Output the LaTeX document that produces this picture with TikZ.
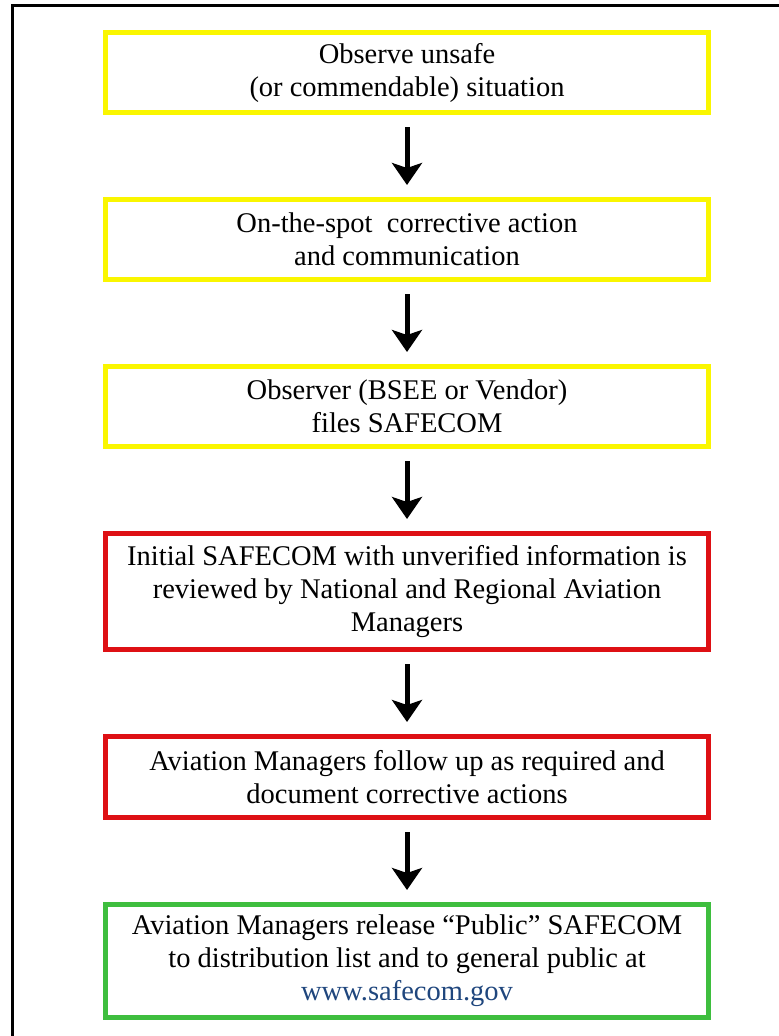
\documentclass[tikz,border=0pt]{standalone}
\usepackage{fontspec}
\setmainfont{Liberation Serif}
\usepackage{tikz}
\usetikzlibrary{arrows.meta}
\usetikzlibrary{positioning}

\definecolor{boxyellow}{RGB}{250,246,0}
\definecolor{boxred}{RGB}{222,16,20}
\definecolor{boxgreen}{RGB}{62,190,62}
\definecolor{linkblue}{RGB}{31,70,125}

\begin{document}
\begin{tikzpicture}[x=1pt,y=-1pt,node distance=82pt,
  main node/.style={rectangle,draw,line width=5pt,minimum width=603pt,inner sep=4pt,
    align=center,font=\fontsize{28.5}{33}\selectfont},
  yellow node/.style={main node,draw=boxyellow,minimum height=80pt},
  red node/.style={main node,draw=boxred},
  green node/.style={main node,draw=boxgreen,minimum height=113pt},
  flow/.style={-{Stealth[length=22pt,width=30pt,inset=5pt]},line width=5pt,
    shorten >=12pt,shorten <=12pt}]

  \useasboundingbox (0,0) rectangle (779,1036);
  \begin{scope}
    \clip (0,0) rectangle (779,1036);
    \draw[line width=3pt] (12,5.5) rectangle (800,1060);
  \end{scope}

  \node[yellow node] (1) at (407,72.5) {Observe unsafe\\(or commendable) situation};
  \node[yellow node] (2) [below=of 1] {On-the-spot\ \ corrective action\\and communication};
  \node[yellow node] (3) [below=of 2] {Observer (BSEE or Vendor)\\files SAFECOM};
  \node[red node,minimum height=116pt] (4) [below=of 3]
    {Initial SAFECOM with unverified information is\\reviewed by National and Regional Aviation\\Managers};
  \node[red node,minimum height=81pt] (5) [below=of 4]
    {Aviation Managers follow up as required and\\document corrective actions};
  \node[green node] (6) [below=of 5]
    {Aviation Managers release “Public” SAFECOM\\to distribution list and to general public at\\\textcolor{linkblue}{www.safecom.gov}};

  \draw[flow] (1) -- (2);
  \draw[flow] (2) -- (3);
  \draw[flow] (3) -- (4);
  \draw[flow] (4) -- (5);
  \draw[flow] (5) -- (6);
\end{tikzpicture}
\end{document}
